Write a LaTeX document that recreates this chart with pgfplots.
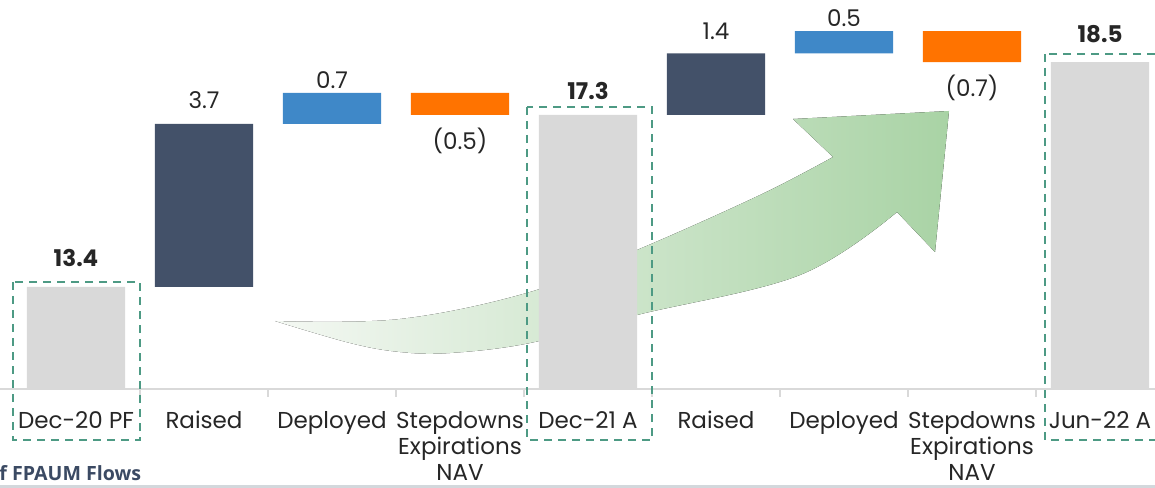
\documentclass[border=0pt]{standalone}
\usepackage{pgfplots}
\pgfplotsset{compat=1.18}
\usepackage{pgfplotstable}
\usepackage{fontspec}
\setmainfont{Poppins}
\newfontfamily\titlefont{Open Sans}
\definecolor{navy}{HTML}{435169}
\definecolor{wblue}{HTML}{3F88C8}
\definecolor{worange}{HTML}{FF7300}
\definecolor{wgray}{HTML}{D9D9D9}
\definecolor{boxgreen}{HTML}{4D9A84}
\definecolor{arrowL}{HTML}{F4F8F3}
\definecolor{arrowR}{HTML}{A9D3A5}
\definecolor{txt}{HTML}{262626}
\definecolor{titlec}{HTML}{3B4A63}
\definecolor{linec}{HTML}{D3D8DC}
\tikzset{lbl/.style={font=\fontsize{11.5}{13}\selectfont, text=txt, inner sep=0pt},
  blbl/.style={font=\fontsize{11.5}{13}\selectfont\bfseries, text=txt, inner sep=0pt}}

\pgfplotstableread{
x base gray navy blue orange
0 0    13.4 0   0   0
1 13.4 0    3.7 0   0
2 17.1 0    0   0.7 0
3 17.3 0    0   0   0.5
4 0    17.3 0   0   0
5 17.3 0    1.4 0   0
6 18.7 0    0   0.5 0
7 18.5 0    0   0   0.7
8 0    18.5 0   0   0
}\wf

\begin{document}
\begin{tikzpicture}
\begin{scope}[yshift=194.5pt, x=0.5pt, y=-0.5pt]
\fill[left color=arrowL, right color=arrowR]
  plot[smooth, tension=0.6] coordinates {(275,321) (400,319) (530,292) (637,250) (760,195) (833,157)}
  -- (793,119) -- (949,111) -- (935,252) --
  plot[smooth, tension=0.6] coordinates {(897,212) (800,275) (637,315) (530,343) (450,353) (400,352) (350,343) (275,321)}
  -- cycle;
\end{scope}
\begin{axis}[
  at={(0,0)}, anchor=south west,
  x=64pt, y=22.05pt,
  xmin=-0.59375, xmax=8.4297, ymin=11.087, ymax=19.908,
  ybar stacked, bar width=0.766,
  axis y line=none, axis x line*=bottom,
  x axis line style={draw=wgray, line width=1pt, -},
  xtick={0,...,8},
  xticklabels={Dec-20 PF, Raised, Deployed, {Stepdowns\\Expirations\\NAV}, Dec-21 A, Raised, Deployed, {Stepdowns\\Expirations\\NAV}, Jun-22 A},
  major tick length=0pt,
  extra x ticks={0.5,1.5,...,7.5}, extra x tick labels={},
  extra x tick style={major tick length=4pt, tick align=outside, major tick style={draw=wgray, line width=0.8pt}},
  xticklabel style={font=\fontsize{11.5}{13}\selectfont, text=txt, align=center, inner sep=0pt, anchor=north, yshift=-11pt},
  clip mode=individual,
]
\addplot[draw=none, fill=none] table[x=x, y=base] {\wf};
\addplot[draw=none, fill=wgray] table[x=x, y=gray] {\wf};
\addplot[draw=none, fill=navy] table[x=x, y=navy] {\wf};
\addplot[draw=none, fill=wblue] table[x=x, y=blue] {\wf};
\addplot[draw=none, fill=worange] table[x=x, y=orange] {\wf};
\node[blbl, anchor=base] at (axis cs:0,13.4) [yshift=10pt] {13.4};
\node[lbl, anchor=base] at (axis cs:1,17.1) [yshift=7.5pt] {3.7};
\node[lbl, anchor=base] at (axis cs:2,17.8) [yshift=2pt] {0.7};
\node[lbl, anchor=north] at (axis cs:3,17.3) [yshift=-6.5pt] {(0.5)};
\node[blbl, anchor=base] at (axis cs:4,17.3) [yshift=7.5pt] {17.3};
\node[lbl, anchor=base] at (axis cs:5,18.7) [yshift=7pt] {1.4};
\node[lbl, anchor=base] at (axis cs:6,19.2) [yshift=2.5pt] {0.5};
\node[lbl, anchor=north] at (axis cs:7,18.5) [yshift=-6.5pt] {(0.7)};
\node[blbl, anchor=base] at (axis cs:8,18.5) [yshift=10pt] {18.5};
\end{axis}
\begin{scope}[yshift=194.5pt, x=0.5pt, y=-0.5pt]
\draw[boxgreen, line width=1.2pt, dash pattern=on 4pt off 3pt] (13,282) rectangle (140,440);
\draw[boxgreen, line width=1.2pt, dash pattern=on 4pt off 3pt] (527,107) rectangle (652,440);
\draw[boxgreen, line width=1.2pt, dash pattern=on 4pt off 3pt] (1045,54) rectangle (1162,440);
\node[anchor=base west, inner sep=0pt, font=\titlefont\bfseries\fontsize{9.8}{12}\selectfont, text=titlec] at (-1,480) {f FPAUM Flows};
\draw[linec, line width=1.5pt] (0,486) -- (1155,486);
\pgfresetboundingbox
\path[use as bounding box] (0,0) rectangle (1155,487);
\end{scope}
\end{tikzpicture}
\end{document}
